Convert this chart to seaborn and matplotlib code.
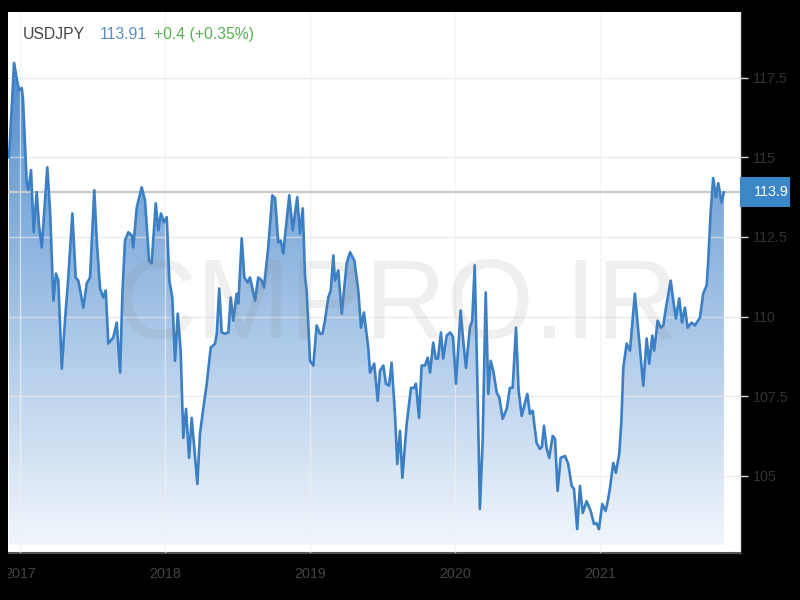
import numpy as np
import pandas as pd
import matplotlib
matplotlib.use("Agg")
import matplotlib.pyplot as plt
import matplotlib.transforms as mtransforms
from matplotlib.patches import Rectangle, PathPatch
from matplotlib.colors import LinearSegmentedColormap
import seaborn as sns

# ---------------- data ----------------
years = [
    2016.924, 2016.959, 2016.979, 2016.993, 2017.012, 2017.021, 2017.046, 2017.057, 2017.076, 2017.094,
    2017.115, 2017.131, 2017.150, 2017.188, 2017.207, 2017.230, 2017.248, 2017.264, 2017.288, 2017.310,
    2017.333, 2017.361, 2017.384, 2017.402, 2017.437, 2017.460, 2017.483, 2017.512, 2017.531, 2017.552,
    2017.574, 2017.591, 2017.609, 2017.643, 2017.667, 2017.690, 2017.707, 2017.724, 2017.747, 2017.770,
    2017.781, 2017.805, 2017.839, 2017.862, 2017.890, 2017.908, 2017.936, 2017.954, 2017.972, 2017.993,
    2018.012, 2018.030, 2018.050, 2018.069, 2018.088, 2018.108, 2018.126, 2018.145, 2018.166, 2018.184,
    2018.223, 2018.241, 2018.262, 2018.288, 2018.315, 2018.345, 2018.357, 2018.374, 2018.391, 2018.414,
    2018.437, 2018.453, 2018.471, 2018.494, 2018.506, 2018.529, 2018.547, 2018.570, 2018.586, 2018.621,
    2018.643, 2018.667, 2018.683, 2018.712, 2018.740, 2018.759, 2018.781, 2018.798, 2018.816, 2018.834,
    2018.857, 2018.881, 2018.912, 2018.931, 2018.950, 2018.966, 2018.977, 2019.000, 2019.023, 2019.046,
    2019.069, 2019.086, 2019.103, 2019.126, 2019.143, 2019.161, 2019.172, 2019.195, 2019.219, 2019.253,
    2019.276, 2019.306, 2019.333, 2019.352, 2019.372, 2019.402, 2019.414, 2019.443, 2019.467, 2019.483,
    2019.506, 2019.524, 2019.545, 2019.563, 2019.586, 2019.602, 2019.621, 2019.637, 2019.667, 2019.697,
    2019.719, 2019.731, 2019.752, 2019.770, 2019.793, 2019.812, 2019.828, 2019.850, 2019.867, 2019.883,
    2019.903, 2019.919, 2019.943, 2019.966, 2019.986, 2020.007, 2020.039, 2020.057, 2020.076, 2020.103,
    2020.119, 2020.136, 2020.154, 2020.172, 2020.191, 2020.212, 2020.230, 2020.246, 2020.264, 2020.288,
    2020.306, 2020.329, 2020.357, 2020.379, 2020.398, 2020.421, 2020.439, 2020.460, 2020.478, 2020.499,
    2020.517, 2020.536, 2020.563, 2020.586, 2020.600, 2020.614, 2020.632, 2020.650, 2020.674, 2020.690,
    2020.708, 2020.729, 2020.759, 2020.781, 2020.805, 2020.821, 2020.843, 2020.862, 2020.881, 2020.908,
    2020.936, 2020.959, 2020.976, 2020.993, 2021.016, 2021.039, 2021.057, 2021.069, 2021.092, 2021.110,
    2021.133, 2021.148, 2021.161, 2021.184, 2021.207, 2021.241, 2021.264, 2021.299, 2021.322, 2021.340,
    2021.361, 2021.374, 2021.398, 2021.419, 2021.437, 2021.460, 2021.488, 2021.506, 2021.524, 2021.547,
    2021.566, 2021.586, 2021.605, 2021.632, 2021.655, 2021.690, 2021.712, 2021.736, 2021.747, 2021.763,
    2021.781, 2021.800, 2021.816, 2021.839, 2021.855,
]
rates = [
    115.00, 117.97, 117.43, 117.12, 117.18, 116.80, 114.19, 113.97, 114.60, 112.65,
    113.91, 112.87, 112.17, 114.69, 113.34, 110.50, 111.35, 111.13, 108.36, 109.87,
    111.23, 113.24, 111.23, 111.13, 110.28, 111.04, 111.23, 113.97, 112.24, 110.88,
    110.60, 110.82, 109.15, 109.34, 109.81, 108.24, 110.82, 112.39, 112.65, 112.55,
    112.17, 113.43, 114.06, 113.65, 111.76, 111.67, 113.56, 112.71, 113.24, 112.96,
    113.12, 111.13, 110.60, 108.61, 110.09, 108.93, 106.19, 107.10, 105.56, 106.82,
    104.74, 106.31, 107.04, 107.89, 109.02, 109.15, 109.46, 110.88, 109.50, 109.46,
    109.50, 110.60, 109.87, 110.72, 110.41, 112.46, 111.23, 111.07, 111.23, 110.50,
    111.23, 111.13, 110.91, 112.17, 113.81, 113.72, 112.33, 112.39, 111.98, 112.80,
    113.81, 112.71, 113.75, 112.61, 113.40, 111.23, 110.82, 108.61, 108.46, 109.72,
    109.46, 109.46, 109.87, 110.60, 110.82, 111.92, 111.13, 111.45, 110.09, 111.67,
    112.02, 111.76, 110.82, 109.65, 110.13, 109.02, 108.24, 108.52, 107.35, 108.30,
    108.46, 107.89, 107.83, 108.55, 106.94, 105.37, 106.41, 104.93, 106.63, 107.76,
    107.76, 107.89, 106.82, 108.46, 108.46, 108.71, 108.24, 109.18, 108.68, 108.68,
    109.50, 108.68, 109.40, 109.50, 109.37, 107.89, 110.19, 109.24, 108.39, 109.65,
    109.87, 111.61, 108.08, 103.95, 106.09, 110.76, 107.57, 108.61, 108.30, 107.61,
    107.45, 106.79, 107.10, 107.76, 107.76, 109.65, 107.67, 106.88, 107.20, 107.57,
    106.94, 107.04, 106.03, 105.84, 105.91, 106.57, 105.87, 105.56, 106.25, 106.16,
    104.52, 105.56, 105.62, 105.37, 104.68, 104.58, 103.32, 104.68, 103.83, 104.20,
    103.89, 103.48, 103.51, 103.32, 104.11, 103.89, 104.27, 104.61, 105.40, 105.09,
    105.69, 106.72, 108.39, 109.15, 108.93, 110.72, 109.56, 107.83, 109.31, 108.52,
    109.40, 108.93, 109.87, 109.65, 109.72, 110.41, 111.13, 110.50, 109.94, 110.57,
    109.81, 110.28, 109.65, 109.81, 109.72, 109.97, 110.72, 110.98, 111.76, 113.24,
    114.35, 113.75, 114.19, 113.59, 113.91,
]
year_ticks = [2017, 2018, 2019, 2020, 2021]
year_labels = ["2017", "2018", "2019", "2020", "2021"]
price_ticks = [105, 107.5, 110, 112.5, 115, 117.5]
price_labels = ["105", "107.5", "110", "112.5", "115", "117.5"]
symbol = "USDJPY"
last_price_text = "113.91"
change_text = "+0.4 (+0.35%)"
last_level = 113.9
last_label = "113.9"
watermark = "CMPRO.IR"

# ---------------- style ----------------
sns.set_theme(style="white")
FONT = ["Liberation Sans", "DejaVu Sans"]
plt.rcParams["font.family"] = FONT

LINE = "#3b7fc4"
W, H = 800, 600
XMIN, XMAX = 2016.917, 2021.966
YMIN, YMAX = 102.57, 119.57
BASE = 102.82

fig = plt.figure(figsize=(8, 6), dpi=100, facecolor="white")
ax = fig.add_axes([8 / W, (H - 553) / H, 732 / W, 541 / H])
ax.set_facecolor("white")

df = pd.DataFrame({"year": years, "rate": rates})

# gradient area under the line
poly = ax.fill_between(df["year"], df["rate"], BASE, facecolor="none", edgecolor="none")
clip = PathPatch(poly.get_paths()[0], transform=ax.transData, facecolor="none", edgecolor="none")
ax.add_patch(clip)
cmap = LinearSegmentedColormap.from_list("fillgrad", ["#f1f6fc", "#9fc0e4", "#4f8acb"])
grad = np.linspace(0, 1, 256).reshape(-1, 1)
im = ax.imshow(grad, extent=[XMIN, XMAX, BASE, 118.2], origin="lower", aspect="auto",
               cmap=cmap, zorder=1, interpolation="bilinear")
im.set_clip_path(clip)

# line
sns.lineplot(data=df, x="year", y="rate", ax=ax, color=LINE, linewidth=1.9, zorder=4)

# last price horizontal line
ax.axhline(last_level, color="#c9c9c9", lw=1.6, zorder=3)

ax.set_xlim(XMIN, XMAX)
ax.set_ylim(YMIN, YMAX)

ax.set_xticks(year_ticks)
ax.set_xticklabels(year_labels)
ax.set_yticks(price_ticks)
ax.set_yticklabels(price_labels)
ax.yaxis.tick_right()
ax.set_xlabel("")
ax.set_ylabel("")

ax.grid(True, color="#e6e6e6", lw=1, alpha=0.7)
ax.set_axisbelow(False)
for gl in ax.get_xgridlines() + ax.get_ygridlines():
    gl.set_zorder(2)
for gl in ax.get_xgridlines():
    gl.set_color("#f0f0f0")

ax.tick_params(axis="y", length=6, width=1, color="#d8d8d8", pad=3,
               labelsize=10.3, labelcolor="#333333", right=True, left=False)
ax.tick_params(axis="x", length=0, pad=10, labelsize=10.3, labelcolor="#444444")

for s in ["top", "left"]:
    ax.spines[s].set_visible(False)
ax.spines["right"].set_color("#e6e6e6")
ax.spines["right"].set_linewidth(1)
ax.spines["bottom"].set_color("#555555")
ax.spines["bottom"].set_linewidth(1.5)

# last price box on the right
trans = mtransforms.blended_transform_factory(ax.transAxes, ax.transData)
ax.add_patch(Rectangle((1.0, last_level - 0.47), 50 / 732, 0.945, transform=trans,
                       facecolor="#3a86c8", edgecolor="none", clip_on=False, zorder=6))
ax.text(1.0 + 31 / 732, last_level, last_label, transform=trans, ha="center", va="center",
        color="white", fontsize=10.3, zorder=7, clip_on=False)

# header
fig.text(23 / W, 1 - 39 / H, symbol, color="#444444", fontsize=11.3, va="baseline")
fig.text(100 / W, 1 - 39 / H, last_price_text, color="#5b8fc9", fontsize=11.3, va="baseline")
fig.text(154 / W, 1 - 39 / H, change_text, color="#55b04f", fontsize=11.3, va="baseline")

# watermark
fig.text(397 / W, 1 - 338 / H, watermark, color="#808080", alpha=0.12, fontsize=81,
         ha="center", va="baseline", zorder=8)

# black frame
for (x0, y0, w, h) in [(0, 0, 8 / W, 1), (790 / W, 0, 10 / W, 1),
                       (0, 0, 1, 12 / H), (0, 588 / H, 1, 12 / H)]:
    fig.patches.append(Rectangle((x0, y0), w, h, transform=fig.transFigure,
                                 facecolor="black", edgecolor="none", zorder=10))

fig.savefig("out.png", dpi=100, facecolor="black")
